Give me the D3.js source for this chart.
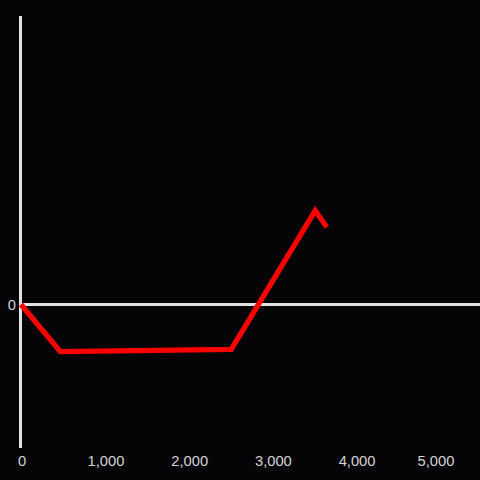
<!DOCTYPE html>
<html><head><meta charset="utf-8">
<script src="https://cdn.jsdelivr.net/npm/d3@7"></script>
<style>html,body{margin:0;padding:0;background:#050407;}svg{display:block;}</style>
</head><body>
<script>
const xValues = [0, 470, 2512, 3515, 3654];
const yValues = [0, -47.2, -44.8, 93.8, 77.2];
const xTicks = [0, 1000, 2000, 3000, 4000, 5000];
const yTicks = [0];

const W = 480, H = 480;
const svg = d3.select("body").append("svg").attr("width", W).attr("height", H);
svg.append("rect").attr("width", W).attr("height", H).attr("fill", "#050407");

const x = d3.scaleLinear().domain([0, 5000]).range([21, 439.5]);
const y = d3.scaleLinear().domain([-143.5, 288.5]).range([448, 16]);

const axisColor = "#e2e2e2";
const textColor = "#d4d4d4";
const font = "Liberation Sans, Arial, sans-serif";

// vertical axis line
svg.append("line").attr("x1", 20.5).attr("x2", 20.5).attr("y1", y(288.5)).attr("y2", y(-143.5))
  .attr("stroke", axisColor).attr("stroke-width", 3);
// zero line
svg.append("line").attr("x1", 20).attr("x2", 480).attr("y1", y(0)).attr("y2", y(0))
  .attr("stroke", axisColor).attr("stroke-width", 3);

// x tick labels
svg.append("g").selectAll("text").data(xTicks).join("text")
  .attr("x", d => d === 5000 ? x(d) - 3.5 : (d === 0 ? x(d) + 1 : x(d) + 1.3))
  .attr("y", 466)
  .attr("text-anchor", "middle")
  .attr("fill", textColor)
  .attr("font-family", font)
  .attr("font-size", "14.7px")
  .text(d => d3.format(",")(d));

// y tick labels
svg.append("g").selectAll("text").data(yTicks).join("text")
  .attr("x", 16)
  .attr("y", d => y(d) + 5)
  .attr("text-anchor", "end")
  .attr("fill", textColor)
  .attr("font-family", font)
  .attr("font-size", "14.7px")
  .text(d => d3.format(",")(d));

const pts = xValues.map((v, i) => [v, yValues[i]]);
const line = d3.line().x(d => x(d[0])).y(d => y(d[1]));
svg.append("path").attr("d", line(pts))
  .attr("fill", "none").attr("stroke", "#ff0000").attr("stroke-width", 5.3)
  .attr("stroke-linejoin", "miter");
</script>
</body></html>
